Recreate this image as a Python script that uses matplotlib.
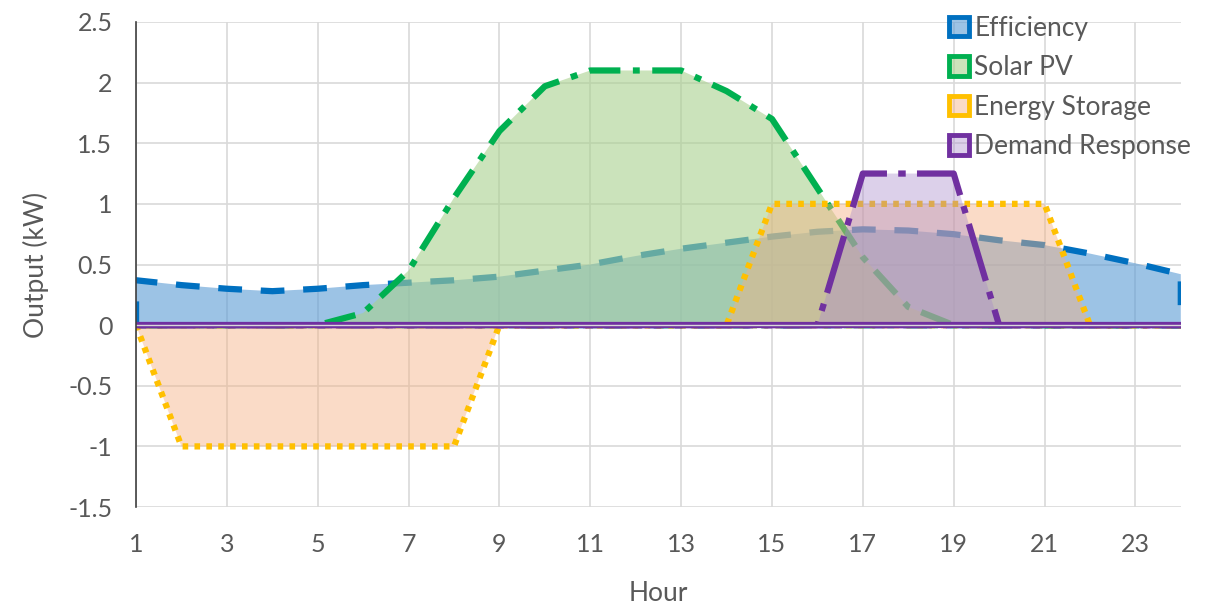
import numpy as np
import matplotlib
matplotlib.use("Agg")
import matplotlib.pyplot as plt

plt.rcParams['font.family'] = ['Lato', 'DejaVu Sans']

hours = list(range(1, 25))
efficiency = [0.37, 0.33, 0.30, 0.28, 0.30, 0.33, 0.35, 0.37, 0.40, 0.45, 0.50, 0.57,
              0.63, 0.68, 0.73, 0.77, 0.79, 0.78, 0.75, 0.70, 0.66, 0.59, 0.51, 0.42]
solar_pv = [0, 0, 0, 0, 0, 0.10, 0.45, 1.05, 1.60, 1.97, 2.10, 2.10,
            2.10, 1.93, 1.70, 1.13, 0.56, 0.15, 0, 0, 0, 0, 0, 0]
energy_storage = [0, -1, -1, -1, -1, -1, -1, -1, 0, 0, 0, 0,
                  0, 0, 1, 1, 1, 1, 1, 1, 1, 0, 0, 0]
demand_response = [0, 0, 0, 0, 0, 0, 0, 0, 0, 0, 0, 0,
                   0, 0, 0, 0, 1.25, 1.25, 1.25, 0, 0, 0, 0, 0]

series_names = ['Efficiency', 'Solar PV', 'Energy Storage', 'Demand Response']
xtick_labels = [1, 3, 5, 7, 9, 11, 13, 15, 17, 19, 21, 23]

fig = plt.figure(figsize=(12.3, 6.07), dpi=100)
ax = fig.add_axes([0.1106, 0.1647, 0.8494, 0.7991])

lw = 4.5
styles = [
    # face, alpha, edge, dashes
    ('#5B9BD5', 0.6, '#0070C0', (0, (3.8, 3.0))),
    ('#A9D18E', 0.6, '#00B050', (0, (5.0, 2.0, 1.1, 2.0))),
    ('#F4B183', 0.45, '#FFC000', (0, (0.9, 1.0))),
    ('#A98BCB', 0.4, '#7030A0', (0, (9.5, 1.8, 1.2, 1.8))),
]
data = [efficiency, solar_pv, energy_storage, demand_response]

handles = []
for i, (vals, name, (fc, a, ec, ls)) in enumerate(zip(data, series_names, styles)):
    # each series: fill then its outline, later series sit on top
    ax.fill_between(hours, vals, 0, facecolor=fc, alpha=a, edgecolor='none', zorder=2 + 2 * i)
    pc = ax.fill_between(hours, vals, 0, facecolor='none', edgecolor=ec,
                         linewidth=lw, linestyle=ls, zorder=3 + 2 * i)
    pc.set_capstyle('butt')
    h = matplotlib.patches.Patch(facecolor=matplotlib.colors.to_rgba(fc, a),
                                 edgecolor=ec, linewidth=3.5, label=name)
    handles.append(h)

ax.axhline(0, color='#7030A0', lw=4.5, zorder=12)
ax.axhline(0, color='#D9D9D9', lw=1.0, zorder=13)

ax.set_xlim(1, 24)
ax.set_ylim(-1.5, 2.5)
ax.set_xticks(xtick_labels)
ax.set_yticks(np.arange(-1.5, 2.51, 0.5))
ax.set_yticklabels(['-1.5', '-1', '-0.5', '0', '0.5', '1', '1.5', '2', '2.5'])
ax.grid(True, color='#D9D9D9', lw=1.2, zorder=0)
ax.set_axisbelow(True)
for s in ['top', 'right', 'bottom']:
    ax.spines[s].set_visible(False)
ax.spines['left'].set_color('#404040')
ax.spines['left'].set_linewidth(1.2)
ax.spines['left'].set_zorder(14)
ax.tick_params(length=0, labelsize=18, colors='#595959')
ax.tick_params(axis='y', pad=17)
ax.tick_params(axis='x', pad=19)

ax.set_xlabel('Hour', fontsize=19, color='#595959', labelpad=18)
ax.set_ylabel('Output (kW)', fontsize=19, color='#595959', labelpad=14)

leg = ax.legend(handles=handles, loc='upper right', bbox_to_anchor=(1.02, 1.035),
                frameon=False, fontsize=19, labelcolor='#595959',
                handlelength=0.75, handleheight=0.75, handletextpad=0.2,
                labelspacing=0.55, borderaxespad=0)
leg.set_zorder(20)

fig.savefig('out.png', dpi=100)
